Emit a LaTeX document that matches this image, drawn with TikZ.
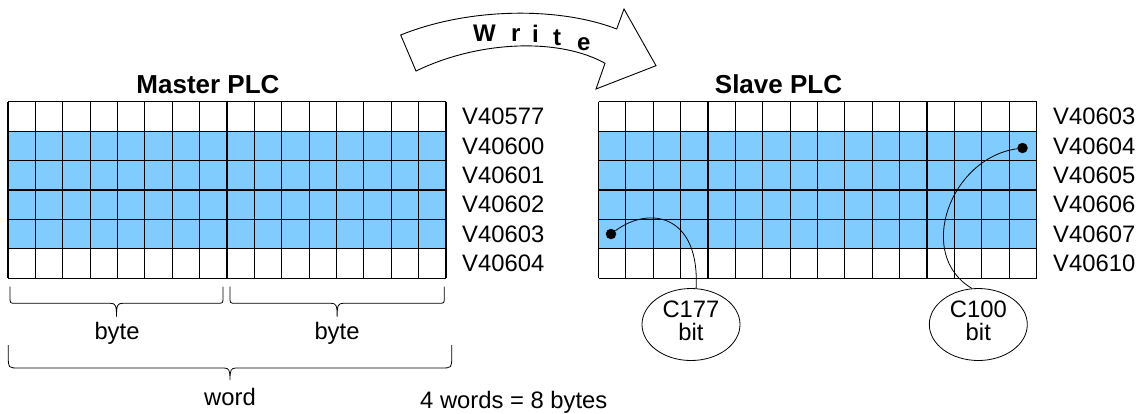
\documentclass[tikz,border=0pt]{standalone}
\usepackage{fontspec}
\setmainfont{Liberation Sans}
\usetikzlibrary{shapes.geometric}
\definecolor{plcblue}{RGB}{128,204,255}
% brace under a memory block: x-left, x-right, y-top, y-line, y-tip, corner
\newcommand{\wordbrace}[6]{%
  \draw[line width=0.8pt] (#1,#3) -- (#1,#4-#6) .. controls (#1,#4) and (#1,#4) .. (#1+#6,#4)
    -- ({(#1+#2)/2-6},#4) .. controls ({(#1+#2)/2-1},#4) and ({(#1+#2)/2},#4+2) .. ({(#1+#2)/2},#5)
    .. controls ({(#1+#2)/2},#4+2) and ({(#1+#2)/2+1},#4) .. ({(#1+#2)/2+6},#4)
    -- (#2-#6,#4) .. controls (#2,#4) and (#2,#4) .. (#2,#4-#6) -- (#2,#3);}

\begin{document}
\begin{tikzpicture}[x=1pt, y=-1pt,
    cell/.style={line width=1.1pt},
    reg/.style={anchor=west, inner sep=0pt, font=\fontsize{23.8}{25}\selectfont},
    plctitle/.style={anchor=base, inner sep=0pt, font=\fontsize{26}{28}\selectfont\bfseries},
    txt/.style={anchor=base, inner sep=0pt, font=\fontsize{23.8}{25}\selectfont},
    bitdot/.style={circle, fill=black, inner sep=0pt, minimum size=10.5pt},
    bitnote/.style={ellipse, draw, line width=0.8pt, minimum width=98pt, minimum height=72pt,
      inner sep=0pt, align=center, font=\fontsize{23.8}{22.7}\selectfont},
    letter/.style={anchor=base west, inner sep=0pt, font=\fontsize{24}{26}\selectfont\bfseries}]
    \useasboundingbox (0,0) rectangle (1147,413);
    % write arrow
    \draw[line width=0.9pt, fill=white] (400.7,35) .. controls (470,7) and (560,7) .. (616.7,29)
      -- (624,9) -- (656,65.7) -- (596,89) -- (605,63.3)
      .. controls (560,38) and (480,40) .. (416,71) -- cycle;
    \foreach \ch/\x/\y [count=\k] in {W/473/41.7, r/511/41, i/532/42.7, t/553/45, e/577/50}
      \node[letter] (wr\k) at (\x,\y) {\ch};
    % master memory
    \node[plctitle] (master) at (208,93.3) {Master PLC};
    \fill[plcblue] (8,131.13) rectangle (446,248.85);
    \foreach \c in {0,...,16}
      \draw[cell] (8+27.375*\c,101.7) -- (8+27.375*\c,278.3);
    \foreach \r in {0,...,6}
      \draw[cell] (8,101.7+29.43*\r) -- (446,101.7+29.43*\r);
    \foreach \lab [count=\i from 0] in {V40577,V40600,V40601,V40602,V40603,V40604}
      \node[reg] (mreg\i) at (462,116.4+29.43*\i) {\lab};
    % bytes and word
    \wordbrace{10}{223}{286.7}{303.3}{316.7}{6}
    \wordbrace{230}{444.3}{286.7}{303.3}{316.7}{6}
    \node[txt] (byteL) at (117,339.5) {byte};
    \node[txt] (byteR) at (337,339.5) {byte};
    \wordbrace{8.3}{451.7}{345}{368}{380}{11}
    \node[txt] (word) at (230,405) {word};
    \node[txt, anchor=base west] (count) at (420,408.3) {4 words = 8 bytes};
    % slave memory
    \node[plctitle] (slave) at (778.5,93.3) {Slave PLC};
    \fill[plcblue] (598.5,131.13) rectangle (1036.5,248.85);
    \foreach \c in {0,...,16}
      \draw[cell] (598.5+27.375*\c,101.7) -- (598.5+27.375*\c,278.3);
    \foreach \r in {0,...,6}
      \draw[cell] (598.5,101.7+29.43*\r) -- (1036.5,101.7+29.43*\r);
    \foreach \lab [count=\i from 0] in {V40603,V40604,V40605,V40606,V40607,V40610}
      \node[reg] (sreg\i) at (1053,116.4+29.43*\i) {\lab};
    % bit notes
    \node[bitdot] (b177) at (611,234) {};
    \node[bitdot] (b100) at (1022.5,148) {};
    \node[bitnote] (c177) at (691,324.5) {C177\\bit\rule[-7pt]{0pt}{1pt}};
    \node[bitnote] (c100) at (978.3,324.5) {C100\\bit\rule[-7pt]{0pt}{1pt}};
    \draw[line width=0.8pt] (b177) .. controls (650,205) and (700,215) .. (c177.82);
    \draw[line width=0.8pt] (b100) .. controls (950,158) and (915,255) .. (c100.100);
\end{tikzpicture}
\end{document}
